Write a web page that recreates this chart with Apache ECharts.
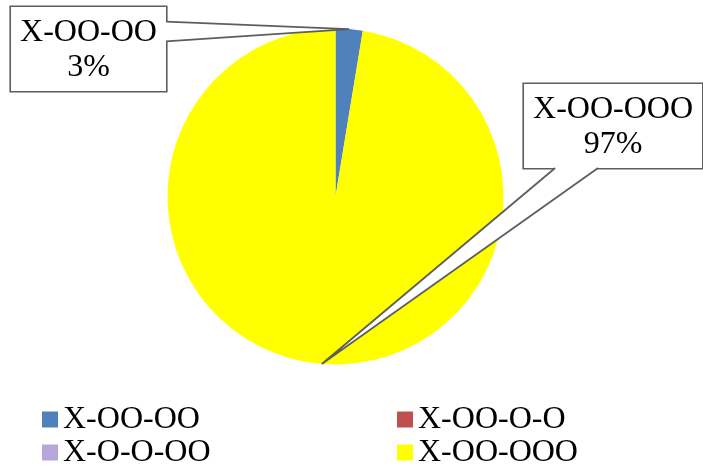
<!DOCTYPE html>
<html>
<head>
<meta charset="utf-8">
<script src="https://cdn.jsdelivr.net/npm/echarts@6/dist/echarts.min.js"></script>
<style>html,body{margin:0;padding:0;background:#fff}#c{width:703px;height:475px}</style>
</head>
<body>
<div id="c"></div>
<script>
// ---- data ----
const categories = ['X-OO-OO', 'X-OO-O-O', 'X-O-O-OO', 'X-OO-OOO'];
const shares = [2.6, 0, 0, 97.4];
const palette = ['#4F81BD', '#C0504D', '#B7A5DB', '#FFFF00'];
const legendColumn1 = ['X-OO-OO', 'X-O-O-OO'];
const legendColumn2 = ['X-OO-O-O', 'X-OO-OOO'];

// ---- callout layout (label boxes) ----
const callouts = {
  'X-OO-OO':  { left: 11,  top: 7,  width: 155, height: 84, side: 'right',  f1: 0.175, f2: 0.41 },
  'X-OO-OOO': { left: 524, top: 84, width: 178, height: 84, side: 'bottom', f1: 0.175, f2: 0.416 }
};
const FONT = 'Liberation Serif';
const GRAY = '#5e5e5e';

const chart = echarts.init(document.getElementById('c'), null, { renderer: 'canvas' });

const pieData = categories.map((name, i) => {
  const c = callouts[name];
  return {
    name: name,
    value: shares[i],
    itemStyle: { color: palette[i] },
    label: c ? { show: true, width: c.width } : { show: false }
  };
});

const legendCommon = {
  orient: 'vertical',
  padding: 0,
  itemGap: 0,
  itemWidth: 16,
  itemHeight: 16,
  icon: 'rect',
  selectedMode: false,
  top: 403,
  textStyle: { fontFamily: FONT, fontSize: 32, color: '#000', lineHeight: 33 }
};

chart.setOption({
  animation: false,
  backgroundColor: '#fff',
  legend: [
    Object.assign({}, legendCommon, { left: 42, data: legendColumn1 }),
    Object.assign({}, legendCommon, { left: 397, data: legendColumn2 })
  ],
  series: [{
    type: 'pie',
    center: [335.5, 196.5],
    radius: 168,
    startAngle: 90,
    clockwise: true,
    avoidLabelOverlap: false,
    minShowLabelAngle: 1,
    emphasis: { disabled: true },
    itemStyle: { borderWidth: 0 },
    label: {
      position: 'outside',
      formatter: p => p.name + '\n' + Math.round(p.percent) + '%',
      fontFamily: FONT,
      fontSize: 32,
      lineHeight: 35,
      color: '#000',
      align: 'center',
      backgroundColor: '#fff',
      borderColor: GRAY,
      borderWidth: 1.6,
      padding: [8, 0, 6, 0]
    },
    labelLine: { show: false },
    labelLayout: function (params) {
      const c = callouts[categories[params.dataIndex]];
      if (!c) return {};
      return { x: c.left + c.width / 2, y: c.top, align: 'center', verticalAlign: 'top' };
    },
    data: pieData
  }]
});

// ---- wedge pointers, tips taken from the library's pie layout ----
const seriesData = chart.getModel().getSeriesByIndex(0).getData();
const graphics = [];
categories.forEach((name, i) => {
  const c = callouts[name];
  if (!c) return;
  const L = seriesData.getItemLayout(i);
  const mid = (L.startAngle + L.endAngle) / 2;
  const tip = [L.cx + L.r * Math.cos(mid), L.cy + L.r * Math.sin(mid)];
  let b1, b2, i1, i2;
  if (c.side === 'right') {
    const x = c.left + c.width;
    b1 = [x, c.top + c.f1 * c.height];
    b2 = [x, c.top + c.f2 * c.height];
    i1 = [x - 2.5, b1[1]]; i2 = [x - 2.5, b2[1]];
  } else {
    const y = c.top + c.height;
    b1 = [c.left + c.f1 * c.width, y];
    b2 = [c.left + c.f2 * c.width, y];
    i1 = [b1[0], y - 2.5]; i2 = [b2[0], y - 2.5];
  }
  graphics.push({
    type: 'polygon', z: 100, silent: true,
    shape: { points: [i1, b1, tip, b2, i2] },
    style: { fill: '#fff', stroke: null }
  });
  graphics.push({
    type: 'polyline', z: 101, silent: true,
    shape: { points: [b1, tip, b2] },
    style: { stroke: GRAY, lineWidth: 1.8, fill: null }
  });
});
chart.setOption({ graphic: graphics });
</script>
</body>
</html>
